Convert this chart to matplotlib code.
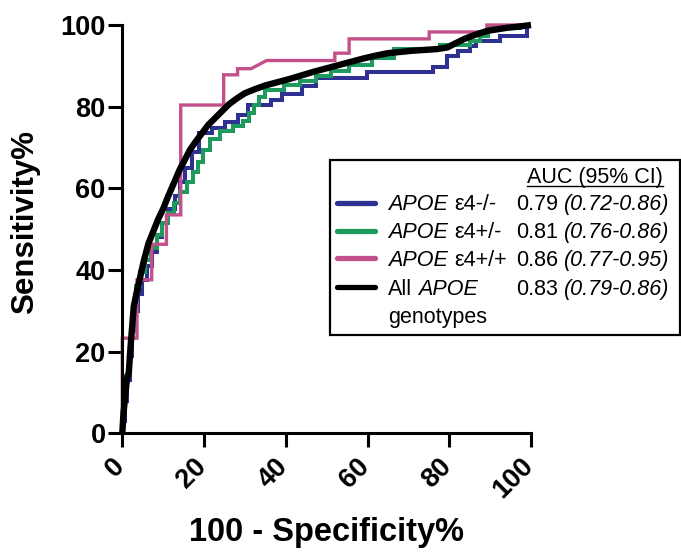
import matplotlib
matplotlib.use("Agg")
import matplotlib.pyplot as plt
from matplotlib.lines import Line2D
from matplotlib.patches import Rectangle
from matplotlib.transforms import ScaledTranslation

plt.rcParams['font.family'] = ['Liberation Sans', 'DejaVu Sans']

# ROC curves: 100 - specificity (%) vs sensitivity (%)
fpr_e4_neg = [0, 0, 0.6, 0.6, 1.2, 1.2, 1.8, 1.8, 2.4, 2.4, 3.1, 3.1, 3.9, 3.9, 4.9, 4.9,
              6.0, 6.0, 7.2, 7.2, 8.4, 8.4, 9.8, 9.8, 11.2, 11.2, 12.8, 12.8, 14.0, 14.0,
              15.4, 15.4, 17.0, 17.0, 18.8, 18.8, 22.0, 22.0, 25.2, 25.2, 28.4, 28.4,
              30.8, 30.8, 36.5, 36.5, 39.0, 39.0, 44.0, 44.0, 47.5, 47.5, 59.8, 59.8,
              76.1, 76.1, 79.4, 79.4, 82.2, 82.2, 85.0, 85.0, 86.6, 86.6, 92.4, 92.4,
              98.9, 98.9, 100]
tpr_e4_neg = [0, 3, 3, 8, 8, 13, 13, 19, 19, 25, 25, 30, 30, 34, 34, 37.5,
              37.5, 41, 41, 44.5, 44.5, 48, 48, 51.5, 51.5, 55, 55, 58, 58, 61.5,
              61.5, 65, 65, 69, 69, 73.5, 73.5, 74.8, 74.8, 76.2, 76.2, 78.0,
              78.0, 80.4, 80.4, 81.7, 81.7, 83.0, 83.0, 85.0, 85.0, 87.0, 87.0, 88.5,
              88.5, 89.8, 89.8, 92.4, 92.4, 93.6, 93.6, 94.8, 94.8, 96.0, 96.0, 97.3,
              97.3, 100, 100]

fpr_e4_het = [0, 0, 0.5, 0.5, 1.0, 1.0, 1.6, 1.6, 2.2, 2.2, 2.8, 2.8, 3.4, 3.4, 4.3, 4.3,
              5.6, 5.6, 7.0, 7.0, 8.4, 8.4, 9.8, 9.8, 11.2, 11.2, 12.6, 12.6, 14.2, 14.2,
              15.8, 15.8, 17.2, 17.2, 18.6, 18.6, 19.8, 19.8, 21.4, 21.4, 23.8, 23.8,
              27.0, 27.0, 29.5, 29.5, 31.0, 31.0, 32.2, 32.2, 33.4, 33.4, 35.0, 35.0,
              39.5, 39.5, 43.5, 43.5, 47.5, 47.5, 51.0, 51.0, 55.5, 55.5, 61.0, 61.0,
              66.5, 66.5, 77.7, 77.7, 85.0, 85.0, 87.5, 87.5, 89.5, 89.5, 97.3, 97.3, 100]
tpr_e4_het = [0, 4, 4, 9, 9, 14, 14, 19, 19, 25, 25, 31, 31, 36, 36, 39.5,
              39.5, 42.5, 42.5, 45.5, 45.5, 48.5, 48.5, 51.5, 51.5, 54, 54, 56.5, 56.5, 59,
              59, 61.5, 61.5, 64, 64, 66.5, 66.5, 69.5, 69.5, 72, 72, 74,
              74, 75.3, 75.3, 76.5, 76.5, 78.5, 78.5, 80.5, 80.5, 82.4, 82.4, 84.2,
              84.2, 85.3, 85.3, 86.4, 86.4, 87.6, 87.6, 88.8, 88.8, 90.2, 90.2, 91.8,
              91.8, 94.0, 94.0, 95.0, 95.0, 96.2, 96.2, 97.4, 97.4, 99.2, 99.2, 100, 100]

fpr_e4_hom = [0, 0, 3.6, 3.6, 7.2, 7.2, 10.8, 10.8, 14.3, 14.3, 24.8, 24.8, 28.2, 28.2,
              31.5, 35.3, 52.0, 52.0, 55.5, 55.5, 75.1, 75.1, 89.2, 89.2, 100]
tpr_e4_hom = [0, 23.3, 23.3, 37.6, 37.6, 46.3, 46.3, 53.5, 53.5, 80.4, 80.4, 87.8, 87.8, 89.3,
              89.3, 91.3, 91.3, 93.1, 93.1, 96.6, 96.6, 98.3, 98.3, 100, 100]

fpr_all = [0, 0.3, 0.6, 1.1, 1.6, 2.0, 2.4, 2.8, 3.4, 4.2, 5.2, 6.4, 7.6, 8.8, 10.0, 11.2,
           12.5, 14.0, 15.3, 16.6, 18.0, 19.5, 21.0, 22.5, 24.0, 26.0, 28.0, 30.0, 32.5,
           35.0, 38.0, 41.0, 44.0, 47.0, 50.0, 53.0, 56.0, 59.0, 62.0, 65.0, 68.0, 71.0,
           74.0, 77.0, 79.5, 81.5, 83.5, 85.5, 87.5, 89.5, 91.5, 94.0, 97.0, 100]
tpr_all = [0, 5, 8, 13, 15, 21, 26, 31, 34, 37.5, 42, 46.5, 49.5, 52.5, 55, 58,
           61, 64.5, 67, 69.5, 71.5, 73.5, 75.5, 77, 78.5, 80.5, 82, 83.3, 84.3,
           85.2, 86, 86.8, 87.7, 88.6, 89.4, 90.2, 91, 91.8, 92.5, 93.1, 93.4, 93.7,
           93.9, 94.1, 94.5, 95.5, 96.5, 97.3, 98.0, 98.6, 98.9, 99.3, 99.6, 100]

ticks = [0, 20, 40, 60, 80, 100]
tick_labels = ["0", "20", "40", "60", "80", "100"]

group_names = ["ε4-/-", "ε4+/-", "ε4+/+", None]
auc_values = ["0.79", "0.81", "0.86", "0.83"]
auc_ci = ["(0.72-0.86)", "(0.76-0.86)", "(0.77-0.95)", "(0.79-0.86)"]
colors = ["#2E3192", "#1E9A5E", "#C4508A", "#000000"]
widths = [2.9, 2.9, 2.4, 4.6]

W, H = 681, 557
fig = plt.figure(figsize=(W / 100, H / 100), dpi=100)


def fx(px):
    return px / W


def fy(py):
    return 1 - py / H


ax = fig.add_axes([fx(122.3), fy(433.3), (531.0 - 122.3) / W, (433.3 - 25.0) / H])

curves = [(fpr_e4_neg, tpr_e4_neg), (fpr_e4_het, tpr_e4_het),
          (fpr_e4_hom, tpr_e4_hom), (fpr_all, tpr_all)]
for (xs, ys), c, lw in zip(curves, colors, widths):
    ax.plot(xs, ys, color=c, lw=lw, clip_on=False,
            solid_joinstyle='miter', solid_capstyle='butt')

ax.set_xlim(0, 100)
ax.set_ylim(0, 100)
ax.set_xticks(ticks)
ax.set_yticks(ticks)
ax.set_xticklabels(tick_labels, rotation=45, ha='right', rotation_mode='anchor',
                   fontsize=19.5, fontweight='bold')
ax.set_yticklabels(tick_labels, fontsize=19.5, fontweight='bold')
ax.tick_params(direction='out', length=10, width=2.2, pad=2, colors='black')
ax.tick_params(axis='x', pad=5)
shift = ScaledTranslation(-11 / 100, 1 / 100, fig.dpi_scale_trans)
for lab in ax.get_xticklabels():
    lab.set_transform(lab.get_transform() + shift)
for side in ('top', 'right'):
    ax.spines[side].set_visible(False)
for side in ('left', 'bottom'):
    ax.spines[side].set_linewidth(2.2)

ax.set_xlabel("100 - Specificity%", fontsize=23.5, fontweight='bold')
ax.set_ylabel("Sensitivity%", fontsize=22.5, fontweight='bold')
ax.xaxis.set_label_coords(0.5, -0.205)
ax.yaxis.set_label_coords(-0.2014, 0.5175)

# legend box with AUC table
fig.add_artist(Rectangle((fx(330), fy(335)), (680 - 330) / W, (335 - 159.5) / H,
                         transform=fig.transFigure, fill=False, ec='black', lw=1.6))

fs = 15.5
header = fig.text(fx(527), fy(183.3), "AUC (95% CI)", fontsize=fs, va='baseline')

row_centers = [202.7, 230.7, 258.3, 287.3]
for name, auc, ci, c, yc in zip(group_names, auc_values, auc_ci, colors, row_centers):
    fig.add_artist(Line2D([fx(337), fx(375)], [fy(yc), fy(yc)], transform=fig.transFigure,
                          color=c, lw=3.8, solid_capstyle='round'))
    base = yc + 7.5
    if name is not None:
        t1 = fig.text(fx(388.3), fy(base), "APOE", fontsize=fs, style='italic', va='baseline')
        ax.annotate(name, xy=(1, 0), xycoords=t1, xytext=(4.3, 0), textcoords='offset points',
                    fontsize=fs, ha='left', va='bottom', annotation_clip=False)
    else:
        t0 = fig.text(fx(388.3), fy(base), "All", fontsize=fs, va='baseline')
        ax.annotate("APOE", xy=(1, 0), xycoords=t0, xytext=(4.3, 0), textcoords='offset points',
                    fontsize=fs, style='italic', ha='left', va='bottom', annotation_clip=False)
        fig.text(fx(388.3), fy(base + 28.5), "genotypes", fontsize=fs, va='baseline')
    t3 = fig.text(fx(516), fy(base), auc, fontsize=fs, va='baseline')
    ax.annotate(ci, xy=(1, 0), xycoords=t3, xytext=(4.3, 0), textcoords='offset points',
                fontsize=fs, style='italic', ha='left', va='bottom', annotation_clip=False)

# underline the table header
fig.canvas.draw()
bb = header.get_window_extent()
inv = fig.transFigure.inverted()
(x0, y0), (x1, _) = inv.transform([(bb.x0, bb.y0), (bb.x1, bb.y0)])
uy = fy(185.8)
fig.add_artist(Line2D([x0, x1], [uy, uy], transform=fig.transFigure, color='black', lw=1.0))

fig.savefig("out.png", dpi=100)
